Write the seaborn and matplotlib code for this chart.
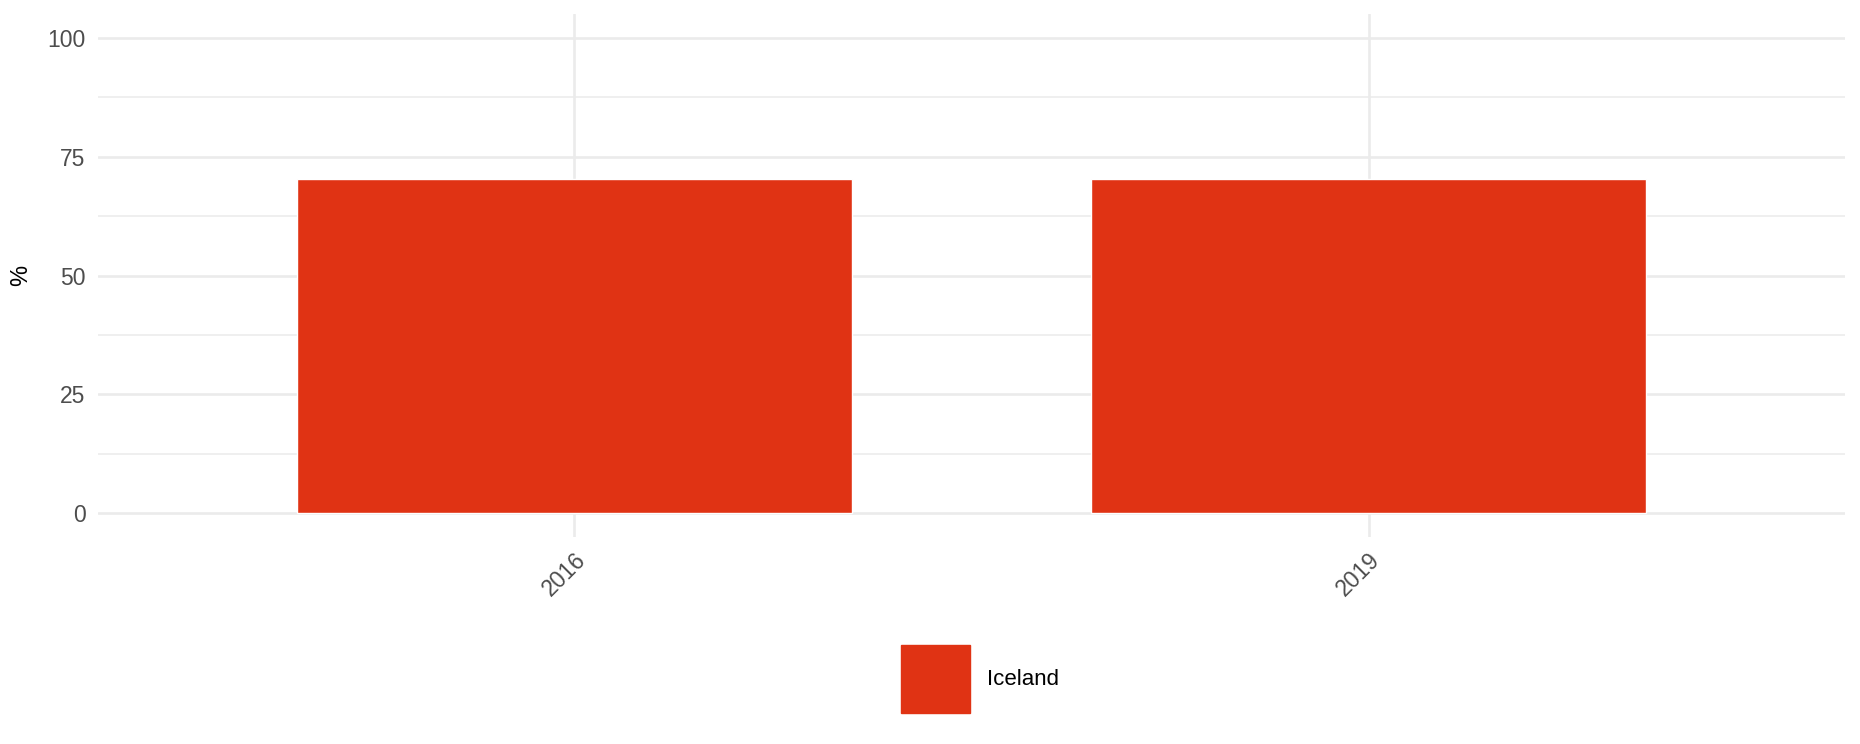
import pandas as pd
import numpy as np
import matplotlib.pyplot as plt
import seaborn as sns
from matplotlib.ticker import MultipleLocator

# Data
years = ['2016', '2019']
values = [70.4, 70.4]
country = ['Iceland', 'Iceland']

data = pd.DataFrame({'Year': years, 'Value': values, 'Country': country})

sns.set_theme(style='white')
plt.rcParams['font.family'] = ['Liberation Sans', 'DejaVu Sans']

fig = plt.figure(figsize=(18.6, 7.44), dpi=100)
ax = fig.add_axes([98 / 1860, 1 - 537 / 744, (1845 - 98) / 1860, (537 - 14) / 744])

sns.barplot(data=data, x='Year', y='Value', hue='Country', palette=['#e03314'],
            width=0.7, saturation=1, ax=ax, legend=False, zorder=3)

ax.set_xlim(-0.6, 1.6)
ax.set_ylim(-5, 105)
ax.yaxis.set_major_locator(MultipleLocator(25))
ax.yaxis.set_minor_locator(MultipleLocator(12.5))
ax.grid(which='major', axis='both', color='#ebebeb', linewidth=1.9, zorder=0)
ax.grid(which='minor', axis='y', color='#ebebeb', linewidth=1.1, zorder=0)
ax.set_axisbelow(True)
for s in ax.spines.values():
    s.set_visible(False)

ax.tick_params(axis='both', which='both', length=0, labelsize=16.5, labelcolor='#4d4d4d')
ax.tick_params(axis='y', pad=9)
ax.tick_params(axis='x', pad=8)
plt.setp(ax.get_xticklabels(), rotation=45, ha='right', rotation_mode='anchor')
ax.set_xlabel('')
ax.set_ylabel('%', fontsize=17, color='black', labelpad=11)

handle = plt.Rectangle((0, 0), 1, 1, color='#e03314')
leg = fig.legend([handle], ['Iceland'], loc='center', bbox_to_anchor=(980 / 1860, 1 - 679 / 744),
                 frameon=False, fontsize=16, handlelength=3.1, handleheight=4.3, handletextpad=0.8)
for t in leg.get_texts():
    t.set_color('black')

fig.savefig('out.png', dpi=100)
